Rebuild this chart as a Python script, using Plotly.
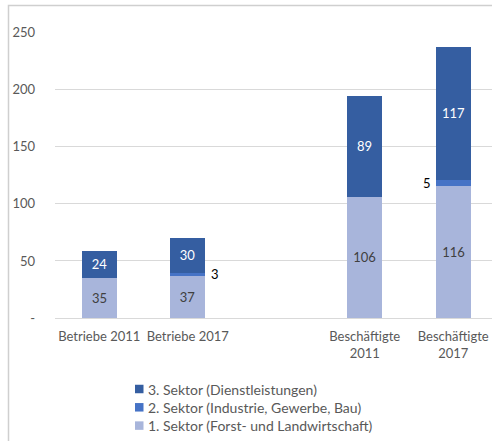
import plotly.graph_objects as go

# Categories (a blank slot separates the two groups)
categories = ["Betriebe 2011", "Betriebe 2017", " ", "Beschäftigte<br>2011", "Beschäftigte<br>2017"]

# Values per sector (None = no value / gap)
sektor1 = [35, 37, None, 106, 116]
sektor2 = [None, 3, None, None, 5]
sektor3 = [24, 30, None, 89, 117]

names = [
    "1. Sektor (Forst- und Landwirtschaft)",
    "2. Sektor (Industrie, Gewerbe, Bau)",
    "3. Sektor (Dienstleistungen)",
]
colors = ["#A8B5DB", "#4673C6", "#355EA1"]

y_ticks = [0, 50, 100, 150, 200, 250]
y_ticktext = ["-", "50", "100", "150", "200", "250"]

W, H = 492, 441
FONT = "Lato"
GRAY = "#595959"

fig = go.Figure()

def fmt(vals):
    return ["" if v is None else str(v) for v in vals]

fig.add_trace(go.Bar(
    x=categories, y=sektor1, name=names[0], marker_color=colors[0],
    text=fmt(sektor1), textposition="inside", insidetextanchor="middle",
    textfont=dict(color="#404040", size=13, family=FONT), width=0.395,
    marker_line_width=0,
))
fig.add_trace(go.Bar(
    x=categories, y=sektor2, name=names[1], marker_color=colors[1],
    width=0.395, marker_line_width=0,
))
fig.add_trace(go.Bar(
    x=categories, y=sektor3, name=names[2], marker_color=colors[2],
    text=fmt(sektor3), textposition="inside", insidetextanchor="middle",
    textfont=dict(color="white", size=13, family=FONT), width=0.395,
    marker_line_width=0,
))

# Labels for the thin middle segment, placed beside the bar
for i, v in enumerate(sektor2):
    if v is None:
        continue
    base = sektor1[i] or 0
    right = i < 2
    fig.add_annotation(
        x=categories[i], y=base + v / 2, text=str(v), showarrow=False,
        xanchor="left" if right else "right",
        xshift=21 if right else -20,
        font=dict(color="#000000", size=13, family=FONT),
    )

# Legend: small squares with text, top entry = last series
shapes = []
leg_x, leg_y0, leg_dy, sq = 135, 389, 18.3, 8.5
for row, idx in enumerate([2, 1, 0]):
    cy = leg_y0 + row * leg_dy
    shapes.append(dict(
        type="rect", xref="paper", yref="paper",
        x0=leg_x / W, x1=(leg_x + sq) / W,
        y0=(H - cy - sq / 2) / H, y1=(H - cy + sq / 2) / H,
        fillcolor=colors[idx], line=dict(width=0),
    ))
    fig.add_annotation(
        xref="paper", yref="paper", x=(leg_x + sq + 2) / W, y=(H - cy) / H,
        text=names[idx], showarrow=False, xanchor="left", yanchor="middle",
        font=dict(size=14, color=GRAY, family=FONT),
    )

# Light chart-area frame
shapes.append(dict(
    type="rect", xref="paper", yref="paper",
    x0=8.5 / W, x1=1.05, y0=-0.05, y1=(H - 5.5) / H,
    line=dict(color="#CFCFCF", width=1.5), layer="below",
))

x0 = 55 / W
fig.update_layout(
    width=W, height=H,
    margin=dict(l=0, r=0, t=0, b=0, autoexpand=False),
    paper_bgcolor="white", plot_bgcolor="white",
    barmode="stack",
    font=dict(family=FONT, size=13, color=GRAY),
    showlegend=False,
    xaxis=dict(
        domain=[x0, 1], range=[-0.5, 4.438], automargin=False,
        categoryorder="array", categoryarray=categories,
        showgrid=False, showline=False, zeroline=False,
        tickfont=dict(size=13, color=GRAY, family=FONT),
        ticks="", ticklabelstandoff=9,
    ),
    yaxis=dict(
        domain=[(H - 318) / H, (H - 32.7) / H], range=[0, 250], automargin=False,
        tickvals=y_ticks, ticktext=y_ticktext,
        showgrid=True, gridcolor="#D9D9D9", gridwidth=1,
        zeroline=True, zerolinecolor="#D9D9D9", zerolinewidth=1,
        showline=False, ticks="", ticklabelstandoff=19,
        tickfont=dict(size=13, color=GRAY, family=FONT),
    ),
    shapes=shapes,
    bargap=0,
)

fig.write_html("out.html")
